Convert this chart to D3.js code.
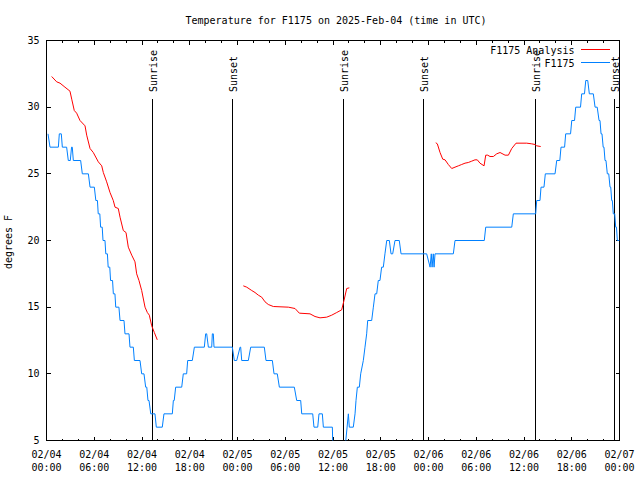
<!DOCTYPE html>
<html><head><meta charset="utf-8">
<script src="https://cdn.jsdelivr.net/npm/d3@7"></script>
<style>
body{margin:0;background:#fff}
svg{display:block}
text{font-family:"DejaVu Sans Mono","Liberation Mono",monospace;font-size:10px;fill:#000}
</style>
</head><body>
<svg id="c" width="640" height="480"></svg>
<script>
// ---- data (hours since 2025-02-04 00:00 UTC) ----
const f1175Hours = [0.19,0.44,1.49,1.61,1.86,1.99,2.53,2.74,2.99,3.15,3.24,3.37,4.29,4.5,5.26,5.47,6.01,
  6.2,6.4,6.5,6.7,6.8,7.0,7.1,7.35,7.45,7.65,7.75,7.95,8.05,8.3,8.4,8.6,8.7,9.1,9.24,9.74,9.86,10.37,10.49,10.91,11.04,11.75,11.96,12.25,12.46,12.6,12.75,12.88,13.1,13.63,13.8,14.55,14.76,15.81,15.94,16.05,16.23,16.99,17.19,17.61,17.74,18.32,18.58,19.83,20.0,20.13,20.34,20.76,20.84,20.96,21.05,23.35,23.6,23.9,24.32,24.4,24.53,25.36,25.66,27.37,27.58,28.38,28.59,29.0,29.26,31.14,31.44,31.94,32.07,33.45,33.61,34.08,34.24,34.66,34.79,35.92,36.0,37.45,37.93,38.05,38.55,38.77,38.89,39.06,39.31,39.48,39.81,40.02,40.23,40.36,40.86,41.07,41.28,41.49,41.69,41.9,42.11,42.32,42.53,42.75,43.08,43.29,43.5,43.79,44.33,44.55,47.77,48.2,48.35,48.45,48.6,48.7,48.82,51.12,51.33,55.01,55.19,58.46,58.66,61.47,61.6,62.01,62.14,62.51,62.68,63.9,64.11,64.5,64.65,65.1,65.24,65.85,66.0,66.35,66.5,67.1,67.25,67.6,67.76,68.01,68.21,68.71,68.93,69.2,69.43,69.55,69.68,69.8,69.95,70.05,70.18,70.3,70.47,70.65,70.81,70.9,71.02,71.1,71.22,71.4,71.52,71.62,71.73,72.0];
const f1175Temps = [28,27,27,28,28,27,27,26,26,27,27,26,26,25,25,24,24,
  23,23,22,22,21,21,20,20,19,19,18,18,17,17,16,16,15,15,14,14,13,13,12,12,11,11,10,10,9,9,8,8,7,7,6,6,7,7,8,8,9,9,10,10,11,11,12,12,13,13,12,12,13,13,12,12,11,11,12,12,11,11,12,12,11,11,10,10,9,9,8,8,7,7,6,6,7,7,6,6,4,4,7,6,6,7,8,9,9,10,11,12,13,14,14,15,16,16,17,17,18,18,19,20,20,19,19,20,20,19,19,18,19,18,19,18,19,19,20,20,21,21,22,22,23,23,24,24,25,25,26,26,27,27,28,28,29,29,30,30,31,31,32,32,31,31,30,30,29,29,28,28,27,27,26,26,25,25,24,24,23,23,22,22,21,21,20,20];

const analysisHours = [0.65,1.28,1.70,2.32,2.95,3.17,3.49,3.79,4.21,4.84,5.05,5.47,5.88,6.51,6.94,7.14,7.56,7.98,8.39,8.61,9.02,9.24,9.65,9.99,10.28,10.71,11.12,11.33,11.62,11.96,12.38,12.67,12.92,13.22,13.55,13.92,
  14.5,
  24.73,25.16,25.79,26.2,26.62,27.04,27.46,27.87,28.5,30.39,31.23,31.77,33.11,33.74,34.37,35.21,35.84,36.47,37.09,37.38,37.72,38.05,
  39.0,
  48.91,49.11,49.45,49.79,50.08,50.49,50.92,51.33,51.75,52.17,52.59,53.0,53.43,53.84,54.13,54.47,54.98,55.19,55.44,55.73,56.15,56.57,56.99,57.62,58.04,58.46,59.0,60.34,60.97,61.39,61.6,62.1];
const analysisTemps = [32.3,31.9,31.8,31.5,31.2,30.6,29.75,29.55,29.0,28.6,27.9,26.9,26.6,25.9,25.6,25.1,24.4,23.6,23.0,22.5,22.4,21.75,20.75,20.6,19.5,18.9,18.4,17.5,17.0,16.25,15.0,14.6,14.4,13.6,13.1,12.55,
  null,
  16.6,16.5,16.25,16.1,15.9,15.75,15.4,15.2,15.05,15.0,14.9,14.55,14.5,14.3,14.2,14.25,14.4,14.6,14.8,15.5,16.4,16.45,
  null,
  27.33,27.25,26.6,26.1,26.05,25.7,25.4,25.5,25.6,25.7,25.8,25.85,25.95,26.05,26.05,25.8,25.6,26.4,26.4,26.3,26.3,26.5,26.6,26.4,26.4,26.9,27.3,27.3,27.25,27.2,27.1,27.05];

const sunHours  = [13.28, 23.33, 37.26, 47.31, 61.39, 71.4];
const sunLabels = ["Sunrise","Sunset","Sunrise","Sunset","Sunrise","Sunset"];

const xTickHours = [0,6,12,18,24,30,36,42,48,54,60,66,72];
const xTickDates = ["02/04","02/04","02/04","02/04","02/05","02/05","02/05","02/05","02/06","02/06","02/06","02/06","02/07"];
const xTickTimes = ["00:00","06:00","12:00","18:00","00:00","06:00","12:00","18:00","00:00","06:00","12:00","18:00","00:00"];
const xMinorHours = d3.range(0, 73, 2);
const yTicks = [5,10,15,20,25,30,35];

const titleText = "Temperature for F1175 on 2025-Feb-04 (time in UTC)";
const yLabelText = "degrees F";
const seriesNames = ["F1175 Analysis","F1175"];
const seriesColors = ["#ff0000","#0080ff"];

// ---- drawing ----
const svg = d3.select("#c");
const L = 46.5, R = 619.5, T = 40.5, B = 440.5;
const x = d3.scaleLinear().domain([0,72]).range([L,R]);
const y = d3.scaleLinear().domain([5,35]).range([B,T]);

svg.append("defs").append("clipPath").attr("id","clip")
  .append("rect").attr("x",L).attr("y",T).attr("width",R-L).attr("height",B-T);

const font = "'DejaVu Sans Mono','Liberation Mono',monospace";
function styleAxis(g){
  g.attr("font-family",font).attr("font-size",10);
  g.select(".domain").remove();
  g.selectAll("line").attr("stroke","#000").attr("shape-rendering","crispEdges");
  g.selectAll("text").attr("fill","#000");
}

// ticks
svg.append("g").attr("transform",`translate(0,${B})`)
  .call(d3.axisBottom(x).tickValues(xMinorHours).tickSize(-2).tickSizeOuter(0).tickFormat("").offset(0)).call(styleAxis);
svg.append("g").attr("transform",`translate(0,${B})`)
  .call(d3.axisBottom(x).tickValues(xTickHours).tickSize(-4).tickSizeOuter(0).tickFormat("").offset(0)).call(styleAxis);
svg.append("g").attr("transform",`translate(0,${T})`)
  .call(d3.axisTop(x).tickValues(xMinorHours).tickSize(-2).tickSizeOuter(0).tickFormat("").offset(0)).call(styleAxis);
svg.append("g").attr("transform",`translate(0,${T})`)
  .call(d3.axisTop(x).tickValues(xTickHours).tickSize(-4).tickSizeOuter(0).tickFormat("").offset(0)).call(styleAxis);
svg.append("g").attr("transform",`translate(${L},0)`)
  .call(d3.axisLeft(y).tickValues(yTicks).tickSize(-4).tickSizeOuter(0).tickPadding(7).tickFormat(d3.format("d")).offset(0)).call(styleAxis);
svg.append("g").attr("transform",`translate(${R},0)`)
  .call(d3.axisRight(y).tickValues(yTicks).tickSize(-4).tickSizeOuter(0).tickFormat("").offset(0)).call(styleAxis);

// x tick labels (two lines)
const xl = svg.append("g").attr("font-family",font).attr("font-size",10).attr("text-anchor","middle");
xTickHours.forEach((h,i)=>{
  const t = xl.append("text").attr("x",x(h)).attr("y",458);
  t.append("tspan").attr("x",x(h)).attr("y",458).text(xTickDates[i]);
  t.append("tspan").attr("x",x(h)).attr("y",471).text(xTickTimes[i]);
});

// frame
svg.append("rect").attr("x",L).attr("y",T).attr("width",R-L).attr("height",B-T)
  .attr("fill","none").attr("stroke","#000").attr("shape-rendering","crispEdges");

// sunrise / sunset markers
sunHours.forEach((h,i)=>{
  const sx = Math.round(x(h)-0.5)+0.5;
  svg.append("line").attr("x1",sx).attr("x2",sx).attr("y1",99).attr("y2",B)
    .attr("stroke","#000").attr("shape-rendering","crispEdges");
  svg.append("text").attr("transform",`translate(${sx+4.5},92) rotate(-90)`)
    .attr("text-anchor","start").text(sunLabels[i]);
});

// series
const plot = svg.append("g").attr("clip-path","url(#clip)");
const line = d3.line().defined(d=>d[1]!==null).x(d=>x(d[0])).y(d=>y(d[1]));
plot.append("path").datum(analysisHours.map((h,i)=>[h,analysisTemps[i]]))
  .attr("d",line).attr("fill","none").attr("stroke",seriesColors[0]).attr("stroke-width",1);
plot.append("path").datum(f1175Hours.map((h,i)=>[h,f1175Temps[i]]))
  .attr("d",line).attr("fill","none").attr("stroke",seriesColors[1]).attr("stroke-width",1);

// title & y label
svg.append("text").attr("x",336).attr("y",24).attr("text-anchor","middle").text(titleText);
svg.append("text").attr("transform","translate(12,242) rotate(-90)").attr("text-anchor","middle").text(yLabelText);

// legend
const legY = [49.5, 62.5];
seriesNames.forEach((n,i)=>{
  svg.append("text").attr("x",574.5).attr("y",legY[i]+4.5).attr("text-anchor","end").text(n);
  svg.append("line").attr("x1",581).attr("x2",610).attr("y1",legY[i]).attr("y2",legY[i])
    .attr("stroke",seriesColors[i]).attr("shape-rendering","crispEdges");
});
</script>
</body></html>
